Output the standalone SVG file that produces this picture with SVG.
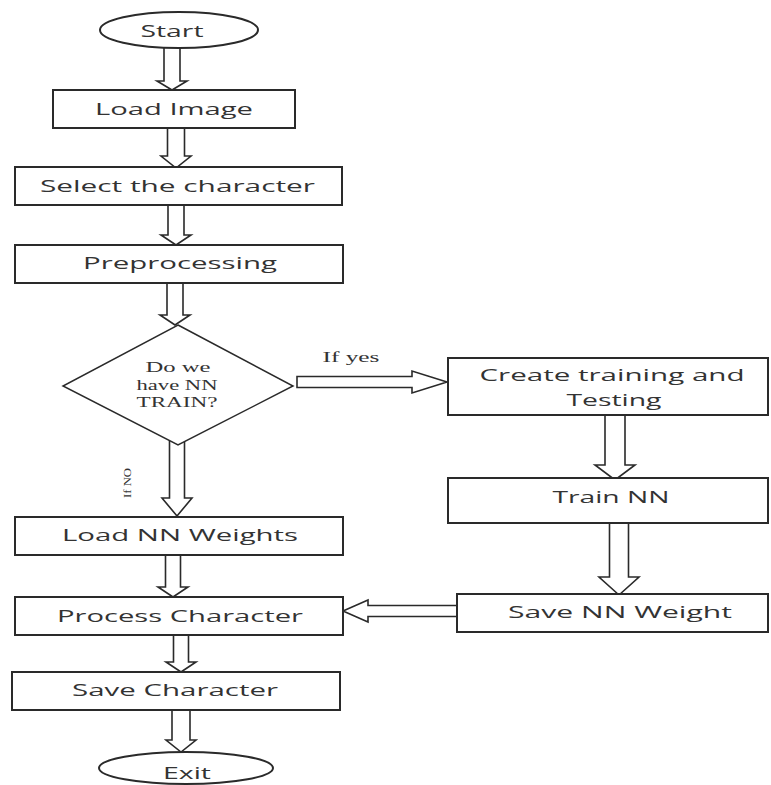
<svg xmlns="http://www.w3.org/2000/svg" width="771" height="785" viewBox="0 0 771 785">
<style>
.box{fill:#fff;stroke:#2a2a2a;stroke-width:2}
.arr{fill:#fff;stroke:#2a2a2a;stroke-width:1.6;stroke-linejoin:miter}
.t{font-family:"Open Sans","DejaVu Sans",sans-serif;font-size:17px;fill:#333;text-anchor:middle}
.s{font-family:"Liberation Serif","Times New Roman",serif;font-size:14px;fill:#333;text-anchor:middle}
</style>
<rect width="771" height="785" fill="#fff"/>
<g id="connectors">
<path class="arr" d="M164,48 V81 H157 L172,90 L187,81 H180 V48"/>
<path class="arr" d="M167.5,128 V156 H161 L176,168 L191,156 H184.5 V128"/>
<path class="arr" d="M168,205 V235 H161 L176,245 L191,235 H184 V205"/>
<path class="arr" d="M167,283 V315 H160 L175,325 L190,315 H183 V283"/>
<path class="arr" d="M297,376.5 H412 V371 L447,382 L412,393 V387.5 H297 Z"/>
<path class="arr" d="M169.5,438 V498 H162 L177,516 L192,498 H184.5 V438"/>
<path class="arr" d="M605,415 V465 H595 L615,480 L635,465 H625 V415"/>
<path class="arr" d="M609.5,523 V577 H599 L619,595 L639,577 H628.5 V523"/>
<path class="arr" d="M457,605.5 H368 V600 L343,611 L368,622 V616.5 H457"/>
<path class="arr" d="M165.5,555 V587 H158 L173,597 L188,587 H180.5 V555"/>
<path class="arr" d="M173.5,635 V662 H166 L181,672 L196,662 H188.5 V635"/>
<path class="arr" d="M172,710 V740 H166 L181,752 L196,740 H190 V710"/>
<text class="s" x="351" y="362" textLength="57" lengthAdjust="spacingAndGlyphs">If yes</text>
<text class="s" style="font-size:11px" transform="translate(131,483) rotate(-90)" textLength="30" lengthAdjust="spacingAndGlyphs">If NO</text>
</g>
<g id="start">
<ellipse class="box" cx="179" cy="30" rx="79" ry="18"/>
<text class="t" x="172" y="37" textLength="63" lengthAdjust="spacingAndGlyphs">Start</text>
</g>
<g id="load-image">
<rect class="box" x="53" y="90" width="242" height="38"/>
<text class="t" x="174" y="115" textLength="158" lengthAdjust="spacingAndGlyphs">Load Image</text>
</g>
<g id="select-character">
<rect class="box" x="15" y="167" width="327" height="38"/>
<text class="t" x="177.5" y="192" textLength="275" lengthAdjust="spacingAndGlyphs">Select the character</text>
</g>
<g id="preprocessing">
<rect class="box" x="15" y="245" width="328" height="38"/>
<text class="t" x="180" y="269" textLength="194" lengthAdjust="spacingAndGlyphs">Preprocessing</text>
</g>
<g id="decision">
<polygon class="box" style="stroke-width:1.5" points="178,325 293,386 178,445 63,386"/>
<text class="s" x="178" y="372" textLength="65" lengthAdjust="spacingAndGlyphs">Do we</text>
<text class="s" x="177" y="390" textLength="81" lengthAdjust="spacingAndGlyphs">have NN</text>
<text class="s" x="177" y="407" textLength="81" lengthAdjust="spacingAndGlyphs">TRAIN?</text>
</g>
<g id="create-training">
<rect class="box" x="448" y="358" width="320" height="57"/>
<text class="t" x="612" y="381" textLength="265" lengthAdjust="spacingAndGlyphs">Create training and</text>
<text class="t" x="614" y="406" textLength="95" lengthAdjust="spacingAndGlyphs">Testing</text>
</g>
<g id="train-nn">
<rect class="box" x="448" y="478" width="320" height="45"/>
<text class="t" x="611" y="503" textLength="117" lengthAdjust="spacingAndGlyphs">Train NN</text>
</g>
<g id="save-nn-weight">
<rect class="box" x="457" y="594" width="311" height="38"/>
<text class="t" x="620" y="618" textLength="224" lengthAdjust="spacingAndGlyphs">Save NN Weight</text>
</g>
<g id="load-nn-weights">
<rect class="box" x="15" y="517" width="328" height="38"/>
<text class="t" x="180" y="541" textLength="236" lengthAdjust="spacingAndGlyphs">Load NN Weights</text>
</g>
<g id="process-character">
<rect class="box" x="15" y="597" width="328" height="38"/>
<text class="t" x="180" y="622" textLength="246" lengthAdjust="spacingAndGlyphs">Process Character</text>
</g>
<g id="save-character">
<rect class="box" x="12" y="672" width="328" height="38"/>
<text class="t" x="175" y="696" textLength="206" lengthAdjust="spacingAndGlyphs">Save Character</text>
</g>
<g id="exit">
<ellipse class="box" cx="186" cy="768" rx="87" ry="16"/>
<text class="t" x="187" y="779" textLength="48" lengthAdjust="spacingAndGlyphs">Exit</text>
</g>
</svg>
